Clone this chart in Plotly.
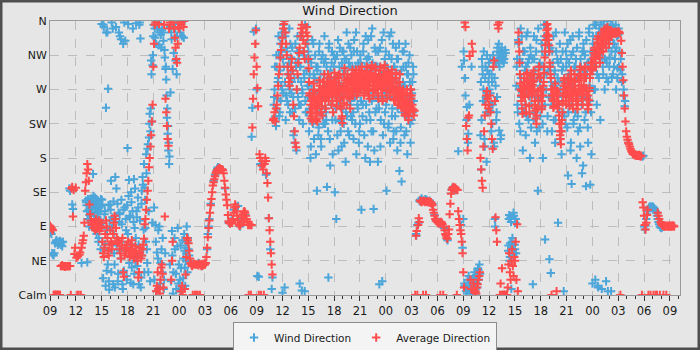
import pandas as pd
import plotly.graph_objects as go

_ = None
start_time = "2024-01-01 09:00"
sample_step = "5min"

# Wind direction (degrees, 5-minute samples, 12 per hour, starting 09:00)
wind_dir = [
    84, 82, 80, 55, 53, 52, 55, 68, 70, 72, 69, 66,
    70, 68, 71, 66, 69, 64, 70, _, _, _, _, _,
    _, _, _, 140, 137, _, _, 119, 113, _, _, _,
    _, _, _, _, _, _, _, _, 42, _, _, _,
    _, _, 124, 118, 43, 126, 112, 105, 121, 98, 116, 108,
    159, 118, 108, 128, 113, 80, 102, 122, 75, 110, 93, 126,
    356, 119, 22, 352, 106, 67, 246, 32, 345, 271, 18, 90,
    119, 150, 358, 102, 14, 80, 40, 155, 352, 65, 120, 28,
    345, 106, 58, 336, 93, 14, 330, 32, 115, 334, 85, 20,
    193, 356, 151, 102, 67, 135, 36, 110, 14, 152, 88, 45,
    357, 102, 49, 115, 14, 358, 337, 23, 137, 155, 60, 172,
    141, 88, 185, 60, 192, 30, 207, 238, 215, 308, 228, 302,
    340, 115, 350, 92, 330, 56, 358, 85, 10, 345, 42, 325,
    348, 75, 334, 20, 312, 297, 283, 233, 212, 190, 172, 40,
    266, 345, 84, 297, 30, 358, 60, 308, 8, 340, 88, 15,
    352, 20, 65, 5, 340, 10, 48, 80, 36, 62, 55, 70,
    75, 60, 52, 45, _, _, _, _, _, _, _, _,
    _, _, _, 42, _, _, _, _, 38, _, _, _,
    _, _, _, 60, 80, 90, 100, _, 120, _, _, _,
    150, _, 158, _, 163, 166, 168, _, 167, _, _, _,
    165, _, _, _, 140, _, _, _, _, 95, _, _,
    _, 98, _, _, 112, _, _, _, _, _, 117, _,
    _, 90, _, _, _, 100, _, _, 105, _, _, _,
    _, _, _, _, _, 208, 246, _, 346, _, _, 350,
    270, 25, _, 24, _, 172, _, _, _, _, _, _,
    _, 158, _, _, _, 101, _, 60, _, 8, 23, _,
    250, 270, 235, 222, 300, 258, 285, 315, 240, 330, 275, 345,
    3, 355, 300, 10, 340, 262, 320, 290, 250, 305, 270, 330,
    312, 280, 240, 260, 215, 200, 330, 300, 270, 340, 285, 250,
    15, 300, 280, 6, 265, 320, 290, 5, 255, 310, 240, 275,
    320, 215, 290, 180, 305, 230, 260, 330, 205, 285, 250, 300,
    137, 300, 210, 320, 240, 290, 195, 270, 315, 225, 305, 245,
    310, 230, 142, 285, 23, 330, 205, 295, 250, 320, 185, 275,
    300, 135, 230, 100, 315, 270, 190, 290, 325, 215, 260, 305,
    245, 320, 200, 295, 175, 310, 235, 280, 330, 210, 300, 255,
    315, 230, 290, 205, 335, 260, 300, 185, 320, 245, 280, 215,
    225, 305, 112, 290, 250, 330, 210, 275, 340, 230, 300, 195,
    313, 240, 175, 285, 215, 350, 265, 113, 190, 295, 320, 245,
    300, 175, 255, 14, 325, 230, 290, 18, 210, 345, 270, 240,
    320, 137, 260, 295, 225, 340, 200, 280, 310, 245, 330, 215,
    300, 235, 325, 270, 190, 310, 250, 163, 290, 220, 149, 275,
    280, 320, 210, 260, 300, 235, 185, 290, 250, 315, 225, 270,
    230, 280, 300, 255, _, _, 80, _, 92, _, _, 124,
    125, _, 127, _, 124, _, _, 126, _, 125, _, _,
    _, 124, _, _, _, 120, _, _, 105, _, 98, _,
    _, _, 96, _, _, _, 94, _, _, 88, _, _,
    _, 74, 72, _, _, _, _, _, 139, 141, _, 140,
    140, _, 138, _, _, 189, _, 100, _, 92, 300, 62,
    100, 308, 12, 262, 5, 247, 20, 212, 8, 15, _, 3,
    5, 10, 18, 3, 12, 8, 20, 15, 28, 33, 25, _,
    210, 165, 310, 290, 270, 255, 195, 300, 240, 315, 265, 280,
    290, 242, 265, 215, 280, 250, 300, 195, 100, 275, 230, 260,
    320, 305, 216, 312, 205, 321, 308, 315, _, 310, _, 318,
    _, _, _, 65, 105, 50, 102, 8, 70, 60, 108, 55,
    60, 100, 275, 310, 240, 330, 225, 290, 350, 260, 305, 190,
    320, 240, 295, 210, 340, 265, 305, 230, 285, 180, 315, 250,
    290, 14, 230, 310, 200, 260, 335, 245, 137, 300, 220, 275,
    300, 245, 320, 180, 270, 340, 73, 355, 290, 215, 330, 260,
    47, 300, 29, 250, 320, 275, 230, 290, 200, 345, 265, 310,
    95, 280, 240, 205, 310, 185, 260, 300, 5, 235, 275, 320,
    310, 220, 157, 290, 250, 335, 200, 146, 275, 320, 230, 300,
    240, 310, 180, 285, 215, 340, 265, 195, 300, 250, 320, 170,
    320, 230, 285, 143, 260, 305, 200, 345, 275, 145, 240, 310,
    15, 340, 270, 300, 20, 355, 250, 325, 10, 285, 345, 230,
    358, 8, 310, 290, 350, 270, 330, 18, 305, 360, 280, 340,
    312, 345, 5, 286, 355, 330, 300, 350, 320, 270, 340, 298,
    342, 300, _, 296, _, 280, _, 262, _, 248, _, _,
    _, _, 200, _, _, _, _, _, _, _, _, _,
    _, _, _, _, _, _, _, _, _, _, 182, 183,
    90, 86, 92, 100, 106, 110, 113, 115, 116, 116, 115, 116,
    116, 115, 114, 112, 110, 108, 104, 100, 96, 93, 90, 89,
    88, 89, 90, _, _, _, _, _, _, _, _, _,
    _, _, _, _, _, _, _, _, _, _, _, _,
]

# Extra wind readings taken half-way between the 5-minute samples in gusty spells
gust_start_hours = [4, 26, 48]
gust_day1 = [
    _, _, 122, 110, 100, 125, 90, 118, 104, 127, 95, 120,
    130, 100, 86, 120, 96, 124, 108, 70, 115, 99, 60, 117,
    125, 95, 355, 60, 110, 12, 345, 85, 40, 118, 7, 98,
    112, 30, 88, 350, 123, 55, 10, 100, 140, 70, 18, 108,
    96, 340, 48, 125, 70, 8, 112, 358, 62, 100, 25, 118,
    80, 130, 42, 104, 16, 122, 58, 350, 96, 28, 140, 75,
    110, 38, 128, 66, 355, 98, 10, 120, 52, 145, 86, 30,
    125, 70, 160, 42, 198, 110, 225, 18, 245, 290, 95, 315,
    355, 20, 338, 70, 5, 350, 48, 328, 90, 15, 342, 60,
    30, 345, 8, 322, 55, 300, 262, 245, 222, 200, 182, 352,
    18, 336, 52, 2, 318, 75, 350, 28, 290, 64, 356, 40,
    8, 345, 35, 358, 72, 22, 338, 58, 12, 45, 90, 30,
]
gust_day2 = [
    260, 300, 228, 315, 245, 280, 340, 235, 295, 255, 320, 270,
    310, 265, 345, 280, 230, 325, 255, 300, 275, 350, 240, 290,
    265, 325, 295, 210, 285, 245, 305, 190, 320, 260, 310, 230,
    300, 250, 340, 270, 225, 315, 285, 355, 240, 295, 330, 260,
    275, 245, 310, 195, 270, 335, 225, 290, 255, 315, 185, 265,
    295, 255, 220, 330, 280, 205, 310, 260, 235, 290, 340, 225,
    240, 300, 275, 215, 325, 260, 170, 285, 305, 230, 270, 315,
    265, 310, 245, 285, 210, 335, 255, 300, 228, 275, 195, 320,
    290, 225, 310, 265, 240, 345, 280, 215, 305, 250, 325, 235,
    260, 300, 240, 320, 275, 225, 345, 270, 250, 305, 200, 290,
    315, 255, 285, 235, 320, 265, 300, 180, 250, 310, 270, 335,
    270, 295, 230, 340, 255, 305, 215, 280, 325, 240, 300, 260,
    285, 320, 245, 300, 195, 275, 335, 255, 290, 225, 310, 265,
    250, 300, 275, 220, 315, 260, 290, 345, 235, 280, 205, 300,
    265, 290, 215, 310, 245, 280, 330, 260, 200, 295, 240, 320,
    300, 245, 275, 330, 215, 290, 260, 305, 240, 280, 200, 255,
    265, 240, 290, _, _, _, 78, _, _, 95, _, 123,
]
gust_day3 = [
    320, 15, 285, 10, 230, 2, 200, 25, 250, 6, 18, 300,
    12, 22, 6, 30, 15, 2, 25, 10, 35, 20, 40, 28,
    280, 230, 300, 255, 320, 205, 285, 260, 175, 295, 240, 305,
    270, 310, 250, 290, 225, 315, 200, 285, 90, 305, 240, 325,
    310, 330, 300, 318, 210, 325, 312, _, 305, _, 322, _,
    _, _, 58, 100, 45, 68, 96, 62, 75, 52, 104, 66,
    95, 55, 300, 250, 335, 270, 310, 215, 285, 340, 245, 320,
    285, 320, 250, 300, 235, 345, 275, 310, 260, 325, 220, 290,
    310, 265, 340, 240, 295, 320, 215, 285, 350, 255, 305, 235,
    285, 330, 225, 300, 355, 250, 315, 270, 340, 235, 295, 320,
    260, 325, 280, 215, 305, 340, 250, 295, 230, 320, 270, 285,
    305, 250, 330, 270, 215, 295, 320, 240, 285, 345, 225, 300,
    265, 330, 240, 305, 280, 190, 315, 255, 340, 225, 295, 270,
    300, 255, 325, 235, 290, 345, 220, 310, 270, 160, 295, 330,
    260, 315, 240, 335, 290, 220, 305, 350, 255, 320, 185, 295,
    330, 300, 355, 270, 315, 340, 290, 12, 325, 350, 305, 345,
    320, 345, 300, 355, 330, 310, 350, 285, 340, 5, 325, 300,
    335, 355, 320, 345, 290, 350, 330, 310, 355, 325, 285, 345,
    350, 320, _, 310, _, 290, _, 270, _, 255, _, _,
]

# Average direction (degrees, same 5-minute samples; 0 = calm)
avg_dir = [
    91, 89, 88, 86, 85, 0, 0, 0, 0, 0, 0, 0,
    0, 0, 0, 38, 38, 39, 38, 38, 38, 37, 38, 38,
    38, 38, 38, 38, 38, 0, 140, 142, 103, 138, 54, 62,
    141, 49, 0, 51, 0, 53, 56, 0, 62, 68, 72, 78,
    95, 137, 148, 160, 172, 165, 150, 119, 106, 98, 92, 95,
    92, 88, 96, 85, 100, 90, 87, 94, 98, 84, 90, 95,
    88, 70, 55, 50, 62, 80, 98, 90, 75, 58, 52, 66,
    85, 70, 60, 67, 80, 95, 104, 100, 88, 75, 68, 72,
    70, 60, 55, 48, 65, 75, 30, 24, 52, 62, 58, 66,
    62, 70, 55, 50, 58, 66, 72, 60, 52, 48, 56, 64,
    58, 50, 45, 23, 30, 55, 62, 48, 52, 60, 66, 74,
    93, 100, 112, 125, 137, 150, 168, 180, 195, 210, 228, 250,
    300, 330, 355, 358, 5, 12, 30, 8, 356, 2, 20, 36,
    40, 28, 10, 355, 103, 258, 240, 222, 205, 196, 350, 358,
    355, 20, 45, 70, 358, 350, 338, 325, 310, 305, 330, 352,
    350, 358, 5, 355, 12, 0, 352, 360, 8, 27, 50, 75,
    72, 68, 58, 48, 42, 40, 38, 0, 40, 41, 0, 40,
    0, 40, 0, 39, 41, 0, 40, 38, 40, 39, 41, 40,
    40, 42, 50, 62, 76, 88, 98, 108, 118, 126, 135, 144,
    148, 152, 156, 160, 162, 164, 165, 166, 167, 166, 165, 165,
    165, 164, 160, 150, 141, 132, 125, 118, 105, 97, 95, 94,
    95, 96, 95, 100, 108, 115, 119, 116, 110, 104, 98, 93,
    91, 92, 94, 98, 102, 106, 109, 110, 108, 104, 100, 96,
    92, 0, 93, 92, 0, 92, 220, 258, 290, 312, 330, 348,
    300, 272, 248, 0, 185, 180, 0, 170, 176, 165, 0, 172,
    180, 176, 160, 147, 128, 101, 85, 70, 55, 40, 27, 230,
    232, 240, 228, 245, 250, 262, 275, 290, 300, 312, 322, 330,
    338, 350, 356, 360, 345, 330, 315, 300, 290, 280, 275, 285,
    300, 310, 295, 250, 235, 215, 200, 194, 270, 290, 305, 318,
    325, 340, 350, 355, 345, 335, 320, 310, 330, 345, 352, 340,
    310, 280, 265, 250, 240, 235, 245, 258, 270, 260, 248, 238,
    232, 245, 260, 268, 275, 262, 255, 248, 265, 272, 280, 270,
    258, 265, 272, 278, 268, 260, 275, 282, 270, 262, 255, 268,
    280, 275, 268, 262, 255, 270, 285, 278, 265, 258, 245, 235,
    260, 275, 290, 282, 270, 262, 278, 285, 272, 265, 258, 270,
    280, 288, 276, 270, 282, 290, 284, 275, 268, 278, 286, 280,
    275, 285, 295, 290, 280, 272, 265, 278, 288, 294, 282, 270,
    262, 270, 280, 292, 298, 286, 274, 268, 280, 290, 296, 284,
    272, 265, 278, 288, 295, 285, 270, 262, 275, 290, 298, 288,
    276, 268, 280, 292, 286, 274, 266, 278, 290, 284, 272, 265,
    258, 270, 285, 278, 262, 250, 265, 280, 272, 258, 246, 262,
    270, 255, 245, 238, 252, 265, 258, 240, 235, 248, 262, 270,
    262, 250, 244, 236, 242, 0, 78, 84, 0, 92, 101, 96,
    124, 123, 122, 123, 0, 124, 123, 122, 0, 123, 122, 123,
    122, 123, 121, 122, 120, 118, 112, 108, 104, 100, 98, 97,
    96, 95, 94, 95, 0, 96, 95, 93, 0, 90, 85, 80,
    78, 75, 74, 80, 86, 106, 120, 133, 138, 140, 142, 141,
    140, 141, 139, 0, 138, 110, 100, 92, 85, 80, 70, 55,
    30, 10, 358, 352, 222, 205, 190, 233, 236, 314, 20, 8,
    330, 320, 15, 8, 3, 5, 2, 10, 14, 20, 25, 30,
    180, 165, 150, 141, 195, 215, 236, 250, 262, 268, 258, 245,
    250, 262, 240, 225, 205, 192, 300, 308, 255, 102, 85, 70,
    355, 350, 358, 0, 15, 0, 35, 0, 0, 0, 0, 0,
    0, 0, 10, 40, 55, 30, 20, 45, 60, 38, 25, 50,
    45, 70, 20, 93, 5, 345, 320, 290, 270, 255, 245, 262,
    270, 285, 260, 250, 275, 292, 280, 262, 248, 270, 288, 275,
    265, 280, 295, 270, 250, 232, 225, 245, 268, 290, 300, 285,
    270, 255, 248, 262, 280, 300, 320, 335, 348, 356, 350, 340,
    320, 300, 285, 0, 270, 255, 248, 262, 278, 268, 5, 255,
    265, 250, 225, 210, 198, 215, 240, 262, 275, 285, 270, 260,
    255, 270, 285, 262, 248, 275, 295, 280, 258, 245, 268, 290,
    282, 265, 250, 244, 255, 270, 288, 300, 285, 270, 258, 265,
    275, 290, 300, 285, 268, 250, 244, 256, 272, 290, 305, 298,
    295, 305, 318, 325, 310, 300, 315, 330, 340, 325, 312, 320,
    330, 345, 335, 320, 340, 350, 338, 325, 345, 352, 340, 330,
    340, 348, 345, 342, 346, 344, 345, 343, 346, 345, 344, 346,
    345, 346, 344, 0, 334, 318, 300, 282, 262, 245, 228, 215,
    208, 204, 200, 198, 195, 192, 190, 188, 186, 185, 185, 184,
    184, 183, 184, 183, 183, 184, 183, 182, 183, 0, 122, 115,
    104, 92, 86, 95, 105, 112, 0, _, _, 0, _, _,
    _, 0, _, _, 0, _, 0, 108, 104, 100, 0, 96,
    94, 92, 91, 0, 90, 91, 90, 0, 91, 90, 91, 90,
    91, 90, 91, 90, 91, 91, 90, _, _, _, _, _,
]

# Extra average readings half-way between samples in the busiest spells
avg_mid_start_hours = [30, 54]
avg_mid_day2 = [
    298, 262, 240, 232, 255, 228, 265, 278, 250, 247, 230, 252,
    228, 258, 250, 282, 262, 240, 268, 236, 280, 262, 290, 255,
    245, 280, 262, 290, 255, 272, 286, 268, 250, 275, 240, 280,
    292, 262, 280, 248, 270, 288, 266, 290, 248, 270, 232, 226,
    272, 252, 298, 268, 282, 250, 290, 270, 260, 280, 245, 282,
    268, 296, 262, 284, 292, 272, 296, 262, 282, 266, 296, 270,
    288, 270, 300, 278, 290, 262, 282, 290, 272, 300, 268, 282,
    276, 258, 290, 284, 302, 275, 262, 284, 270, 300, 285, 272,
    282, 258, 290, 276, 300, 272, 280, 255, 288, 282, 302, 276,
    288, 258, 294, 282, 276, 262, 285, 270, 296, 274, 282, 256,
    270, 256, 292, 266, 250, 270, 256, 290, 262, 248, 266, 250,
    258, 264, 236, 252, 242, 270, 246, 230, 252, 240, 270, 258,
]
avg_mid_day3 = [
    _, _, _, _, _, 332, 305, 278, 262, 268, 238, 275,
    280, 262, 272, 240, 290, 282, 266, 276, 238, 282, 272, 262,
    276, 290, 282, 255, 242, 245, 236, 262, 256, 300, 286, 270,
    262, 244, 270, 275, 292, 312, 328, 340, 355, 342, 335, 328,
    305, 290, 270, 262, 258, 246, 262, 272, 268, 250, 262, 245,
    255, 236, 215, 205, 225, 230, 252, 270, 282, 278, 262, 250,
    265, 282, 272, 255, 262, 290, 284, 265, 250, 262, 280, 275,
    270, 255, 262, 250, 268, 282, 296, 290, 276, 262, 250, 272,
    285, 298, 290, 272, 258, 262, 250, 268, 285, 300, 296, 305,
    300, 312, 322, 315, 305, 322, 336, 332, 318, 318, 305, 326,
    338, 340, 326, 330, 348, 345, 330, 336, 350, 345, 335, 342,
]

dir_ticks = [0, 45, 90, 135, 180, 225, 270, 315, 360]
dir_labels = ["Calm", "NE", "E", "SE", "S", "SW", "W", "NW", "N"]

t0 = pd.Timestamp(start_time)
half = pd.Timedelta(minutes=2.5)
times = pd.date_range(start_time, periods=len(wind_dir), freq=sample_step)


def offset_times(start_hour, n):
    return pd.date_range(t0 + pd.Timedelta(hours=start_hour) + half,
                         periods=n, freq=sample_step)


wind_x = list(times)
wind_y = list(wind_dir)
for sh, arr in zip(gust_start_hours, [gust_day1, gust_day2, gust_day3]):
    wind_x += list(offset_times(sh, len(arr)))
    wind_y += arr

avg_x = list(times[:len(avg_dir)])
avg_y = list(avg_dir)
for sh, arr in zip(avg_mid_start_hours, [avg_mid_day2, avg_mid_day3]):
    avg_x += list(offset_times(sh, len(arr)))
    avg_y += arr

x_end = t0 + pd.Timedelta(hours=73.17)

BLUE = "#4da6da"
RED = "#ff4c4c"
FONT = "DejaVu Sans"

fig = go.Figure()
fig.add_trace(go.Scatter(
    x=wind_x, y=wind_y, mode="markers", name="Wind Direction",
    marker=dict(symbol="cross-thin", size=6, color=BLUE,
                line=dict(width=2, color=BLUE)),
))
fig.add_trace(go.Scatter(
    x=avg_x, y=avg_y, mode="markers", name="Average Direction",
    marker=dict(symbol="cross-thin", size=6, color=RED,
                line=dict(width=2, color=RED)),
))

L, R, T, B = 50, 20, 21, 55
PW, PH = 700 - L - R, 350 - T - B

fig.update_layout(
    width=700, height=350,
    margin=dict(l=L, r=R, t=T, b=B, pad=0, autoexpand=False),
    paper_bgcolor="#e6e6e6", plot_bgcolor="#e6e6e6",
    font=dict(family=FONT, size=11, color="#1a1a1a"),
    title=dict(text="Wind Direction", x=0.5, xanchor="center",
               y=1 - 10.5 / 350, yanchor="middle", yref="container",
               font=dict(family=FONT, size=13, color="#1a1a1a")),
    showlegend=True,
    legend=dict(orientation="h", x=0.5, xanchor="center",
                y=1 - 322 / 350, yanchor="top", yref="container",
                bgcolor="#f4f4f4", bordercolor="#8c8c8c", borderwidth=1,
                font=dict(family=FONT, size=10.5, color="#1a1a1a"),
                itemwidth=30, tracegroupgap=0),
    shapes=[dict(type="rect", xref="paper", yref="paper",
                 x0=-L / PW, x1=1 + R / PW, y0=-B / PH, y1=1 + T / PH,
                 line=dict(color="#4f4f4f", width=5), fillcolor="rgba(0,0,0,0)",
                 layer="above")],
)

fig.update_xaxes(
    type="date", range=[t0, x_end],
    tick0=t0, dtick=3 * 3600 * 1000, tickformat="%H",
    ticks="outside", ticklen=5, tickcolor="#333", tickwidth=1,
    showgrid=True, gridcolor="#bdbdbd", griddash="dash", gridwidth=1,
    showline=True, linecolor="#9a9a9a", linewidth=1, mirror=True,
    zeroline=False,
    tickfont=dict(family=FONT, size=11.5, color="#1a1a1a"),
    minor=dict(dtick=3600 * 1000, tick0=t0, ticks="outside", ticklen=3,
               tickcolor="#333", showgrid=False),
)
fig.update_yaxes(
    range=[0, 360], tickvals=dir_ticks, ticktext=dir_labels,
    ticks="", showgrid=True, gridcolor="#bdbdbd", griddash="dash", gridwidth=1,
    showline=True, linecolor="#9a9a9a", linewidth=1, mirror=True,
    zeroline=False,
    tickfont=dict(family=FONT, size=11, color="#1a1a1a"),
)

fig.write_html("out.html")
